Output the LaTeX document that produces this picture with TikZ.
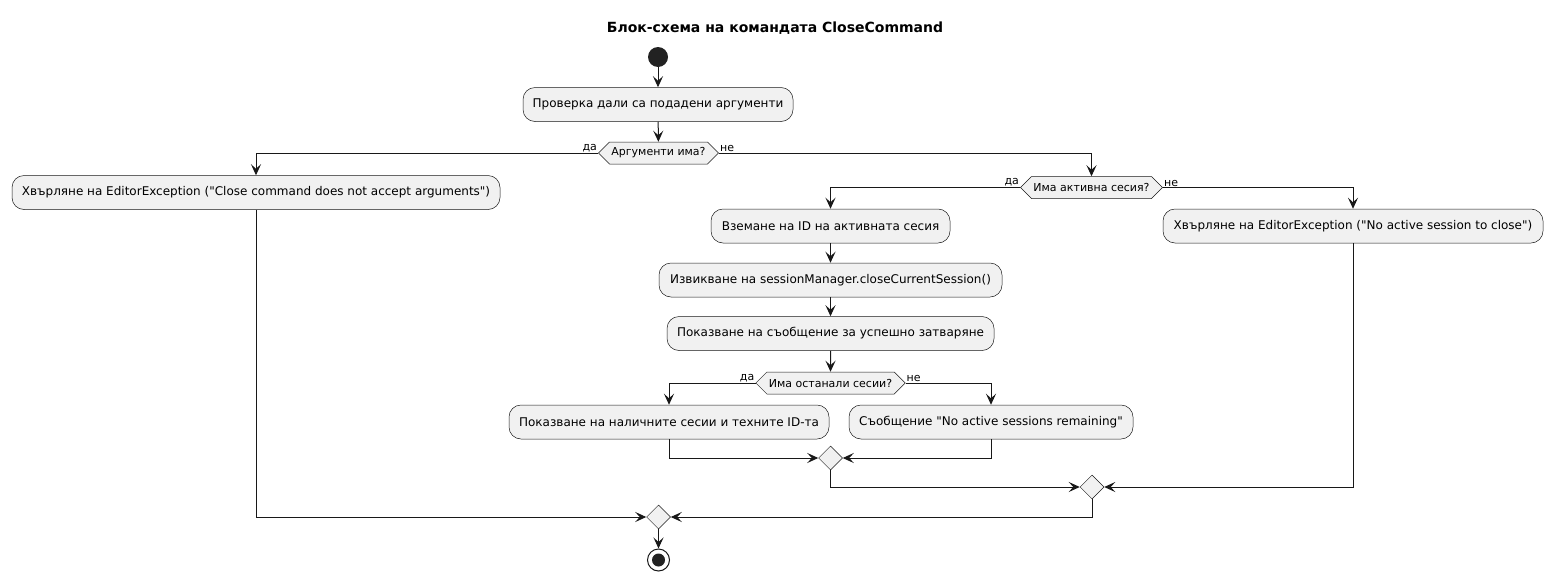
\documentclass[tikz,border=0pt]{standalone}
\usepackage{fontspec}
\setmainfont{DejaVu Sans}[Ligatures=TeXOff]
\usetikzlibrary{arrows.meta,shapes.geometric,shapes.symbols}
\definecolor{ln}{HTML}{181818}
\definecolor{bx}{HTML}{F1F1F1}
\definecolor{dk}{HTML}{222222}
\begin{document}
\begin{tikzpicture}[x=1pt,y=-1pt,
  act/.style={draw=ln,line width=0.5pt,fill=bx,rounded corners=12pt,minimum height=34pt,inner xsep=0pt,font=\fontsize{12}{14}\selectfont},
  dec/.style={draw=ln,line width=0.5pt,fill=bx,signal,signal to=west and east,signal pointer angle=90,minimum height=22pt,inner xsep=2pt,inner ysep=0pt,font=\fontsize{11}{13}\selectfont},
  mrg/.style={draw=ln,line width=0.5pt,fill=bx,diamond,minimum size=24pt,inner sep=0pt},
  flow/.style={draw=ln,line width=1pt,-{Stealth[length=11pt,width=10pt,inset=4.5pt]}},
  lbl/.style={font=\fontsize{11}{13}\selectfont,inner sep=1pt}]
\useasboundingbox (0,0) rectangle (1552,581);
\node[font=\bfseries\fontsize{14}{16}\selectfont] (title) at (775,28) {Блок-схема на командата CloseCommand};
\node[circle,fill=dk,minimum size=20pt,inner sep=0pt] (start) at (658,57) {};
\node[act,minimum width=270pt] (a1) at (658,104.5) {Проверка дали са подадени аргументи};
\node[dec,minimum width=117pt] (d1) at (658.5,153) {Аргументи има?};
\node[act,minimum width=488pt] (left) at (256,192.5) {Хвърляне на EditorException ("Close command does not accept arguments")};
\node[dec,minimum width=142pt] (d2) at (1091.5,187.5) {Има активна сесия?};
\node[act,minimum width=380pt] (right) at (1353,226) {Хвърляне на EditorException ("No active session to close")};
\node[act,minimum width=239pt] (b1) at (830.5,226) {Вземане на ID на активната сесия};
\node[act,minimum width=343pt] (b2) at (830.5,280) {Извикване на sessionManager.closeCurrentSession()};
\node[act,minimum width=327pt] (b3) at (830.5,333.5) {Показване на съобщение за успешно затваряне};
\node[dec,minimum width=144pt] (d3) at (830.5,383) {Има останали сесии?};
\node[act,minimum width=320pt] (c1) at (669,422) {Показване на наличните сесии и техните ID-та};
\node[act,minimum width=284pt] (c2) at (991,422) {Съобщение "No active sessions remaining"};
\node[mrg] (m1) at (830.5,458) {};
\node[mrg] (m2) at (1092,487) {};
\node[mrg] (m3) at (658.5,517) {};
\node[circle,draw=ln,line width=1pt,fill=white,minimum size=22pt,inner sep=0pt,
  path picture={\fill[dk] (path picture bounding box.center) circle (6.5pt);}] (end) at (658.5,560) {};
\draw[flow] (start) -- (a1);
\draw[flow] (a1) -- (d1);
\draw[flow] (d1.west) -| (left.north);
\draw[flow] (d1.east) -| (d2.north);
\node[lbl,anchor=south east] at (d1.west) {да};
\node[lbl,anchor=south west] at (d1.east) {не};
\draw[flow] (d2.west) -| (b1.north);
\draw[flow] (d2.east) -| (right.north);
\node[lbl,anchor=south east] at (d2.west) {да};
\node[lbl,anchor=south west] at (d2.east) {не};
\draw[flow] (b1) -- (b2);
\draw[flow] (b2) -- (b3);
\draw[flow] (b3) -- (d3);
\draw[flow] (d3.west) -| (c1.north);
\draw[flow] (d3.east) -| (c2.north);
\node[lbl,anchor=south east] at (d3.west) {да};
\node[lbl,anchor=south west] at (d3.east) {не};
\draw[flow] (c1.south) |- (m1.west);
\draw[flow] (c2.south) |- (m1.east);
\draw[flow] (m1.south) |- (m2.west);
\draw[flow] (right.south) |- (m2.east);
\draw[flow] (m2.south) |- (m3.east);
\draw[flow] (left.south) |- (m3.west);
\draw[flow] (m3) -- (end);
\end{tikzpicture}
\end{document}
